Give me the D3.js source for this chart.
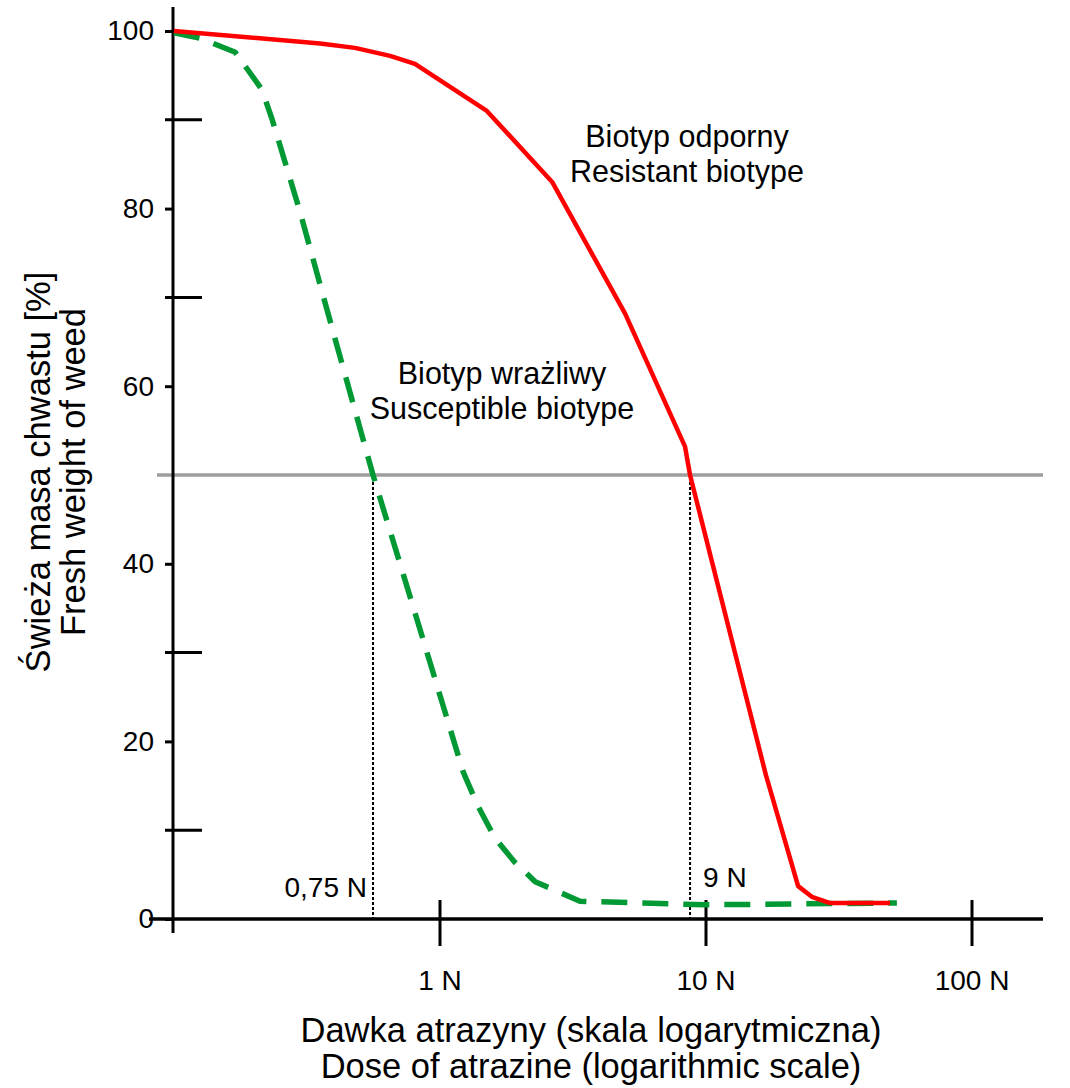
<!DOCTYPE html>
<html><head><meta charset="utf-8">
<script src="https://cdn.jsdelivr.net/npm/d3@7"></script>
<style>body{margin:0;background:#fff}svg text{font-family:"Liberation Sans",Arial,sans-serif;fill:#000}</style>
</head><body><svg id="c" width="1070" height="1088"></svg>
<script>
// ---- data ----
const doseResistant = [0.1, 0.354, 0.479, 0.649, 0.805, 1.50, 2.64, 4.96, 8.34, 8.71, 16.8, 22.2, 25.0, 29.3, 49.2];
const weightResistant = [100, 98.6, 98.1, 97.2, 96.3, 91.0, 83.0, 68.2, 53.2, 50.0, 16.2, 3.7, 2.5, 1.8, 1.8];
const doseSusceptible = [0.1, 0.125, 0.170, 0.214, 0.233, 0.298, 0.385, 0.560, 0.805, 1.221, 1.39, 1.61, 1.91, 2.28, 3.36, 10, 52.2];
const weightSusceptible = [99.8, 99.2, 97.6, 93.4, 90.2, 79.6, 67.5, 50.0, 34.5, 16.6, 12.7, 9.1, 6.4, 4.2, 2.0, 1.6, 1.8];
const ed50Doses = [0.56, 8.71];
const ed50Labels = ["0,75 N", "9 N"];
const xTickValues = [1, 10, 100];
const xTickLabels = ["1 N", "10 N", "100 N"];
const yMajorTicks = [0, 20, 40, 60, 80, 100];
const yMinorTicks = [10, 30, 70, 90];
const halfLevel = 50;
const xTitle = ["Dawka atrazyny (skala logarytmiczna)", "Dose of atrazine (logarithmic scale)"];
const yTitle = ["Świeża masa chwastu [%]", "Fresh weight of weed"];
const resistantLabel = ["Biotyp odporny", "Resistant biotype"];
const susceptibleLabel = ["Biotyp wrażliwy", "Susceptible biotype"];

// ---- scales ----
const svg = d3.select("#c");
const x = d3.scaleLog().domain([0.1, 1000]).range([174, 1238]);
const y = d3.scaleLinear().domain([0, 100]).range([919, 31]);
const xEnd = 1043;

// grey 50% line
svg.append("line").attr("x1", 157).attr("x2", xEnd)
  .attr("y1", y(halfLevel)).attr("y2", y(halfLevel))
  .attr("stroke", "#9d9d9d").attr("stroke-width", 3.5);

// y axis
const yAx = svg.append("g").attr("transform", "translate(173,0)")
  .call(d3.axisLeft(y).tickValues(yMajorTicks).tickSize(8).tickPadding(11).tickFormat(d3.format("d")));
yAx.select(".domain").remove();
yAx.selectAll(".tick line").attr("stroke", "#000").attr("stroke-width", 3);
yAx.selectAll(".tick text").attr("font-size", 28).attr("font-family", "Liberation Sans, Arial, sans-serif").attr("fill", "#000");
svg.append("line").attr("x1", 173).attr("x2", 173).attr("y1", 7).attr("y2", 933)
  .attr("stroke", "#000").attr("stroke-width", 3);
svg.selectAll(".minor").data(yMinorTicks).join("line").attr("class", "minor")
  .attr("x1", 165).attr("x2", 202).attr("y1", d => y(d)).attr("y2", d => y(d))
  .attr("stroke", "#000").attr("stroke-width", 3);

// x axis
svg.append("line").attr("x1", 149).attr("x2", xEnd).attr("y1", y(0)).attr("y2", y(0))
  .attr("stroke", "#000").attr("stroke-width", 3.3);
svg.selectAll(".xt").data(xTickValues).join("line").attr("class", "xt")
  .attr("x1", d => x(d)).attr("x2", d => x(d)).attr("y1", 900).attr("y2", 946)
  .attr("stroke", "#000").attr("stroke-width", 3);
svg.selectAll(".xl").data(xTickValues).join("text").attr("class", "xl")
  .attr("x", d => x(d)).attr("y", 990).attr("text-anchor", "middle").attr("font-size", 28)
  .text((d, i) => xTickLabels[i]);

// dotted ED50 lines
svg.selectAll(".ed").data(ed50Doses).join("line").attr("class", "ed")
  .attr("x1", d => x(d)).attr("x2", d => x(d)).attr("y1", y(halfLevel) + 2).attr("y2", y(0))
  .attr("stroke", "#000").attr("stroke-width", 2).attr("stroke-dasharray", "3 2");
svg.append("text").attr("x", x(ed50Doses[0]) - 6).attr("y", 897).attr("text-anchor", "end")
  .attr("font-size", 28).text(ed50Labels[0]);
svg.append("text").attr("x", x(ed50Doses[1]) + 13).attr("y", 887).attr("text-anchor", "start")
  .attr("font-size", 28).text(ed50Labels[1]);

// curves
const line = d3.line().x(d => x(d[0])).y(d => y(d[1]));
svg.append("path").datum(doseSusceptible.map((d, i) => [d, weightSusceptible[i]]))
  .attr("d", line).attr("fill", "none").attr("stroke", "#009933").attr("stroke-width", 5.5)
  .attr("stroke-dasharray", "26 15").attr("stroke-linejoin", "round");
svg.append("path").datum(doseResistant.map((d, i) => [d, weightResistant[i]]))
  .attr("d", line).attr("fill", "none").attr("stroke", "#ff0000").attr("stroke-width", 4.5)
  .attr("stroke-linejoin", "round");

// annotations
svg.selectAll(".ra").data(resistantLabel).join("text").attr("class", "ra")
  .attr("x", 687).attr("y", (d, i) => 147 + i * 35).attr("text-anchor", "middle").attr("font-size", 30.5).text(d => d);
svg.selectAll(".sa").data(susceptibleLabel).join("text").attr("class", "sa")
  .attr("x", 502).attr("y", (d, i) => 384 + i * 35).attr("text-anchor", "middle").attr("font-size", 30.5).text(d => d);

// axis titles
svg.selectAll(".xtl").data(xTitle).join("text").attr("class", "xtl")
  .attr("x", 591).attr("y", (d, i) => 1042 + i * 36).attr("text-anchor", "middle").attr("font-size", 34.5).text(d => d);
svg.selectAll(".ytl").data(yTitle).join("text").attr("class", "ytl")
  .attr("transform", (d, i) => `translate(${50 + i * 35},472) rotate(-90)`)
  .attr("text-anchor", "middle").attr("font-size", 34.5).text(d => d);
</script></body></html>
